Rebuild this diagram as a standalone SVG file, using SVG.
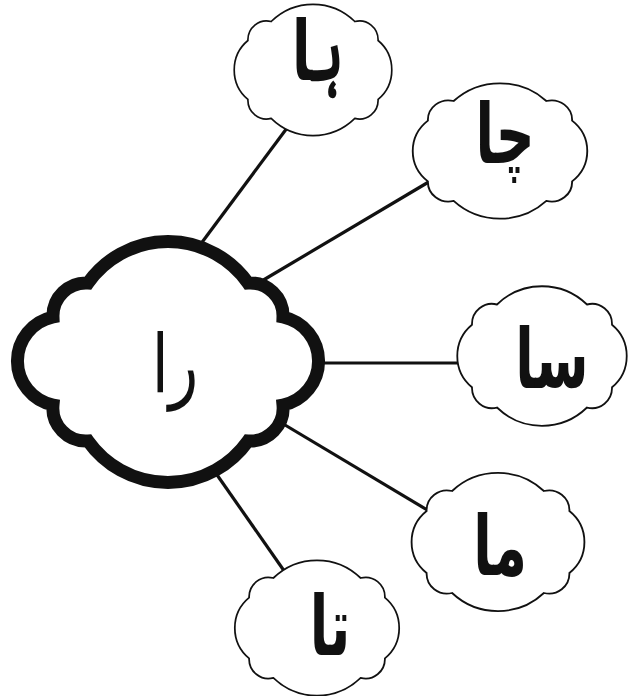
<svg xmlns="http://www.w3.org/2000/svg" xmlns:xlink="http://www.w3.org/1999/xlink" width="629" height="696" viewBox="0 0 629 696">
<style>
.link{stroke:#111;stroke-width:3.2;fill:none;stroke-linecap:butt}
.cloud{fill:#fff;stroke:#111;stroke-width:1.8;vector-effect:non-scaling-stroke}
.main{fill:#fff;stroke:#111;stroke-width:13}
.lbl{font-family:"DejaVu Sans",sans-serif;font-weight:bold;font-size:72px;fill:#111;text-anchor:middle}
.lblc{font-family:"DejaVu Sans",sans-serif;font-size:72px;fill:#111;text-anchor:middle}
</style>
<defs>
<path id="c" d="M-45,-50 A65,65 0 0 1 45,-50 A20,20 0 0 1 70,-30 A40,40 0 0 1 70,32 A20,20 0 0 1 45,52 A65,65 0 0 1 -45,52 A20,20 0 0 1 -70,32 A40,40 0 0 1 -70,-30 A20,20 0 0 1 -45,-50 Z"/>
</defs>
<rect width="629" height="696" fill="#fff"/>
<g id="connectors">
<line class="link" x1="200" y1="245" x2="290" y2="124"/>
<line class="link" x1="255" y1="285" x2="432" y2="180"/>
<line class="link" x1="318" y1="363" x2="462" y2="363"/>
<line class="link" x1="280" y1="422" x2="434" y2="514"/>
<line class="link" x1="215" y1="472" x2="287" y2="575"/>
</g>
<g id="node-ra">
<path class="main" d="M88,283 A98,98 0 0 1 248,283 A33,33 0 0 1 283,317 A45,45 0 0 1 283,405 A33,33 0 0 1 248,441 A98,98 0 0 1 88,441 A33,33 0 0 1 53,405 A45,45 0 0 1 53,317 A33,33 0 0 1 88,283 Z"/>
<text class="lblc" transform="translate(175,392) scale(0.85,1.12)">را</text>
</g>
<g id="node-ha">
<use xlink:href="#c" class="cloud" transform="translate(313,69) scale(0.93,0.95)"/>
<text class="lbl" transform="translate(318,80) scale(0.75,1.15)">ہا</text>
</g>
<g id="node-cha">
<use xlink:href="#c" class="cloud" transform="translate(500,150) scale(1.03,0.98)"/>
<text class="lbl" transform="translate(505,163) scale(0.75,1.15)">چا</text>
</g>
<g id="node-sa">
<use xlink:href="#c" class="cloud" transform="translate(542,355) scale(1.0,1.01)"/>
<text class="lbl" transform="translate(552,388) scale(0.75,1.15)">سا</text>
</g>
<g id="node-ma">
<use xlink:href="#c" class="cloud" transform="translate(498,541) scale(1.02,1.0)"/>
<text class="lbl" transform="translate(500,575) scale(0.75,1.15)">ما</text>
</g>
<g id="node-ta">
<use xlink:href="#c" class="cloud" transform="translate(317,627) scale(0.97,0.98)"/>
<text class="lbl" transform="translate(330,655) scale(0.75,1.15)">تا</text>
</g>
</svg>
